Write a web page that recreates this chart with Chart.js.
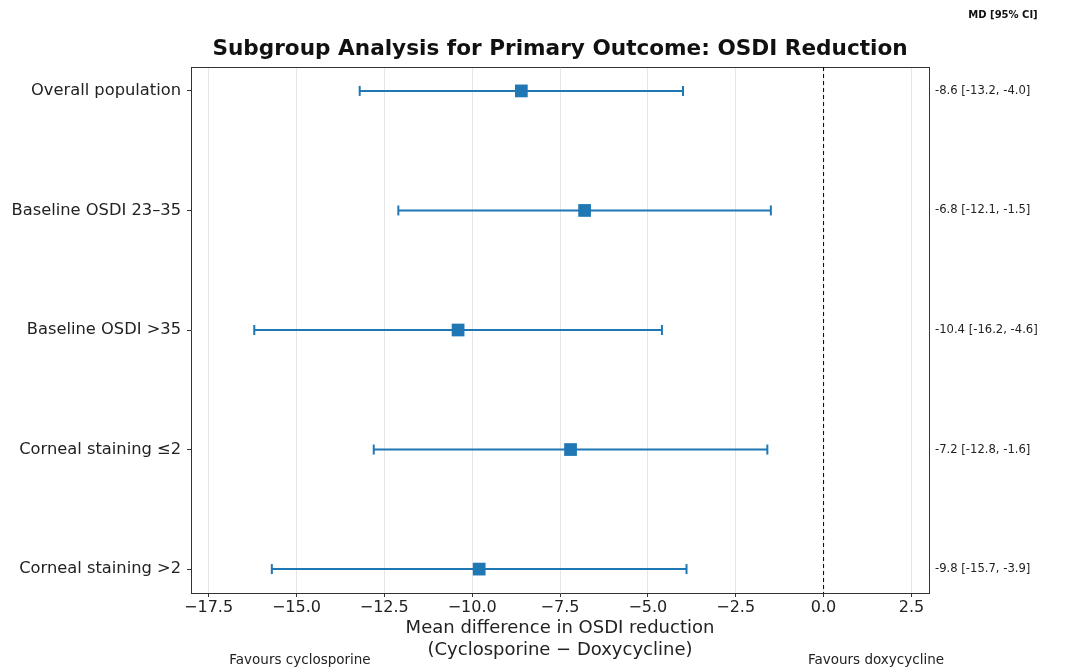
<!DOCTYPE html>
<html lang="en">
<head>
<meta charset="utf-8">
<title>Subgroup Analysis for Primary Outcome: OSDI Reduction</title>
<script src="https://cdn.jsdelivr.net/npm/chart.js@4.4.1/dist/chart.umd.min.js"></script>
<style>
  html, body { margin: 0; padding: 0; background: #fff; }
</style>
</head>
<body>
<canvas id="forest" width="1070" height="671"></canvas>
<script>
  // data
  var subgroups = ['Overall population', 'Baseline OSDI 23\u201335', 'Baseline OSDI >35', 'Corneal staining \u22642', 'Corneal staining >2'];
  var meanDiff = [-8.6, -6.8, -10.4, -7.2, -9.8];
  var ciLow = [-13.2, -12.1, -16.2, -12.8, -15.7];
  var ciHigh = [-4.0, -1.5, -4.6, -1.6, -3.9];
  var xTicks = [-17.5, -15, -12.5, -10, -7.5, -5, -2.5, 0, 2.5];
  var rowTicks = [0, 1, 2, 3, 4];

  var titleText = 'Subgroup Analysis for Primary Outcome: OSDI Reduction';
  var blue = '#1f77b4';
  var ink = '#222';
  var spine = '#333';

  Chart.defaults.font.family = "'DejaVu Sans', sans-serif";
  Chart.defaults.color = ink;

  function fmtMinus(v) {
    return (v < 0 ? '\u2212' : '') + Math.abs(v).toFixed(1);
  }
  function ciLabel(i) {
    return meanDiff[i].toFixed(1) + ' [' + ciLow[i].toFixed(1) + ', ' + ciHigh[i].toFixed(1) + ']';
  }
  function setTicks(values) {
    return function (scale) {
      scale.ticks = values.map(function (v) { return { value: v }; });
    };
  }

  var datasets = [{
    type: 'scatter',
    label: 'MD',
    order: 0,
    data: meanDiff.map(function (v, i) { return { x: v, y: i }; }),
    pointStyle: 'rect',
    pointRadius: 9,
    backgroundColor: blue,
    borderColor: blue,
    borderWidth: 0
  }];

  // one line per CI, with vertical caps at both ends
  subgroups.forEach(function (name, i) {
    datasets.push({
      type: 'line',
      label: name,
      order: 1,
      data: [{ x: ciLow[i], y: i }, { x: ciHigh[i], y: i }],
      borderColor: blue,
      borderWidth: 2,
      pointStyle: 'line',
      pointRotation: 90,
      pointRadius: 5,
      pointBorderWidth: 2,
      pointBorderColor: blue
    });
  });

  // no-effect line
  datasets.push({
    type: 'line',
    label: 'zero',
    order: 2,
    data: [{ x: 0, y: -0.2 }, { x: 0, y: 4.2 }],
    borderColor: '#000',
    borderWidth: 1,
    borderDash: [4, 3],
    pointRadius: 0
  });

  var extraText = {
    id: 'extraText',
    afterDraw: function (chart) {
      var ctx = chart.ctx, area = chart.chartArea;
      ctx.save();
      ctx.fillStyle = '#111';
      ctx.textAlign = 'center';
      ctx.textBaseline = 'middle';
      ctx.font = "bold 21.6px 'DejaVu Sans'";
      ctx.fillText(titleText, (area.left + area.right) / 2, 49);
      ctx.font = "bold 10px 'DejaVu Sans'";
      ctx.fillText('MD [95% CI]', 1003, 15);
      ctx.font = "13.5px 'DejaVu Sans'";
      ctx.fillStyle = ink;
      ctx.fillText('Favours cyclosporine', 300, 660);
      ctx.fillText('Favours doxycycline', 876, 660);
      ctx.restore();
    }
  };

  new Chart(document.getElementById('forest'), {
    data: { datasets: datasets },
    plugins: [extraText],
    options: {
      responsive: false,
      animation: false,
      events: [],
      layout: { padding: 0 },
      plugins: { legend: { display: false }, tooltip: { enabled: false } },
      scales: {
        x: {
          type: 'linear', position: 'bottom', min: -18, max: 3,
          afterBuildTicks: setTicks(xTicks),
          afterFit: function (s) { s.height = 78; },
          ticks: { font: { size: 16 }, padding: 1, maxRotation: 0, autoSkip: false,
                   callback: function (v) { return fmtMinus(v); } },
          grid: { color: 'rgba(176,176,176,0.3)', tickColor: spine, tickLength: 4 },
          border: { color: spine, width: 1 },
          title: { display: true, text: ['Mean difference in OSDI reduction', '(Cyclosporine \u2212 Doxycycline)'],
                   font: { size: 18, lineHeight: 1.22 }, padding: { top: 0, bottom: 10 } }
        },
        x2: {
          type: 'linear', position: 'top', min: -18, max: 3,
          afterFit: function (s) { s.height = 67; },
          ticks: { display: false },
          grid: { drawOnChartArea: false, drawTicks: false },
          border: { color: spine, width: 1 }
        },
        y: {
          type: 'linear', position: 'left', min: -0.2, max: 4.2, reverse: true,
          afterBuildTicks: setTicks(rowTicks),
          afterFit: function (s) { s.width = 191; },
          ticks: { font: { size: 16.3 }, padding: 6, autoSkip: false,
                   callback: function (v) { return subgroups[v]; } },
          grid: { drawOnChartArea: false, tickColor: spine, tickLength: 4 },
          border: { color: spine, width: 1 }
        },
        y2: {
          type: 'linear', position: 'right', min: -0.2, max: 4.2, reverse: true,
          afterBuildTicks: setTicks(rowTicks),
          afterFit: function (s) { s.width = 141; },
          ticks: { font: { size: 11.6 }, padding: 6, autoSkip: false,
                   callback: function (v) { return ciLabel(v); } },
          grid: { drawOnChartArea: false, drawTicks: false },
          border: { color: spine, width: 1 }
        }
      }
    }
  });
</script>
</body>
</html>
